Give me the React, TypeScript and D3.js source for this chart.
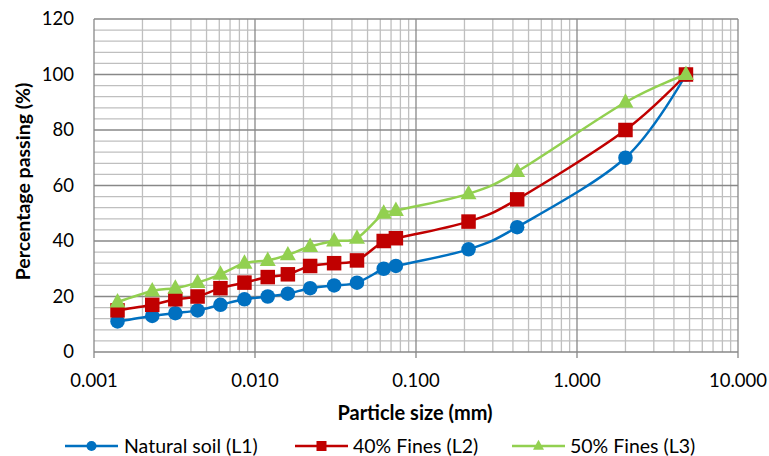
import React from "react";
import * as d3 from "d3";

const particleSizes = [0.0014, 0.0023, 0.0032, 0.0044, 0.0061, 0.0086, 0.012, 0.016, 0.022, 0.031, 0.043, 0.063, 0.075, 0.212, 0.425, 2.0, 4.75];
const naturalSoil = [11, 13, 14, 15, 17, 19, 20, 21, 23, 24, 25, 30, 31, 37, 45, 70, 100];
const fines40 = [15, 17, 19, 20, 23, 25, 27, 28, 31, 32, 33, 40, 41, 47, 55, 80, 100];
const fines50 = [18, 22, 23, 25, 28, 32, 33, 35, 38, 40, 41, 50, 51, 57, 65, 90, 100];
const seriesNames = ["Natural soil (L1)", "40% Fines (L2)", "50% Fines (L3)"];
const seriesColors = ["#0070C0", "#C00000", "#92D050"];
const xTickValues = [0.001, 0.01, 0.1, 1, 10];
const xTickLabels = ["0.001", "0.010", "0.100", "1.000", "10.000"];
const yTickValues = [0, 20, 40, 60, 80, 100, 120];

const FONT = "Lato, 'Open Sans', sans-serif";

function Marker({ kind, cx, cy, color, s }: { kind: number; cx: number; cy: number; color: string; s: number }) {
  if (kind === 0) return <circle cx={cx} cy={cy} r={s / 2} fill={color} />;
  if (kind === 1) return <rect x={cx - s / 2} y={cy - s / 2} width={s} height={s} fill={color} />;
  const h = s * 0.9;
  return (
    <path
      d={`M${cx},${cy - h * 0.62} L${cx + s / 2},${cy + h * 0.38} L${cx - s / 2},${cy + h * 0.38} Z`}
      fill={color}
    />
  );
}

export default function App() {
  const W = 769, H = 456;
  const L = 94, R = 738, T = 19, B = 352;
  const x = d3.scaleLog().domain([0.001, 10]).range([L, R]);
  const y = d3.scaleLinear().domain([0, 120]).range([B, T]);

  const minorX: number[] = [];
  for (const dec of [0.001, 0.01, 0.1, 1]) for (let k = 2; k <= 9; k++) minorX.push(dec * k);
  const minorY: number[] = [];
  for (let v = 4; v < 120; v += 4) if (v % 20 !== 0) minorY.push(v);

  const line = d3
    .line<[number, number]>()
    .x((d) => x(d[0]))
    .y((d) => y(d[1]))
    .curve(d3.curveCatmullRom.alpha(0));

  const allSeries = [naturalSoil, fines40, fines50];

  const legendItems = [
    { lx: 65, tx: 124 },
    { lx: 295, tx: 353 },
    { lx: 512, tx: 570 },
  ];

  return (
    <svg width={W} height={H} style={{ position: "absolute", left: 0, top: 0, background: "#fff" }} fontFamily={FONT}>
      <rect width={W} height={H} fill="#fff" />
      {minorY.map((v) => (
        <line key={"my" + v} x1={L} x2={R} y1={y(v)} y2={y(v)} stroke="#BFBFBF" strokeWidth={1.3} />
      ))}
      {minorX.map((v) => (
        <line key={"mx" + v} x1={x(v)} x2={x(v)} y1={T} y2={B} stroke="#BFBFBF" strokeWidth={1.3} />
      ))}
      {yTickValues.map((v) => (
        <line key={"My" + v} x1={L} x2={R} y1={y(v)} y2={y(v)} stroke="#888888" strokeWidth={1.3} />
      ))}
      {xTickValues.map((v) => (
        <line key={"Mx" + v} x1={x(v)} x2={x(v)} y1={T} y2={B + 6} stroke="#888888" strokeWidth={1.3} />
      ))}
      {yTickValues.map((v) => (
        <text key={"yt" + v} x={74} y={y(v)} dy="0.35em" textAnchor="end" fontSize={18.5} fill="#000">
          {v}
        </text>
      ))}
      {xTickValues.map((v, i) => (
        <text key={"xt" + v} x={x(v)} y={387} textAnchor="middle" fontSize={18.5} fill="#000">
          {xTickLabels[i]}
        </text>
      ))}
      <text x={415} y={420} textAnchor="middle" fontSize={20} fontWeight="bold" fill="#000">
        Particle size (mm)
      </text>
      <text
        transform={`translate(30,${(T + B) / 2 - 4}) rotate(-90)`}
        textAnchor="middle"
        fontSize={19.5}
        fontWeight="bold"
        fill="#000"
      >
        Percentage passing (%)
      </text>
      {allSeries.map((vals, si) => {
        const pts = particleSizes.map((d, i) => [d, vals[i]] as [number, number]);
        return (
          <g key={"s" + si}>
            <path d={line(pts) || ""} fill="none" stroke={seriesColors[si]} strokeWidth={2.5} />
            {pts.map((p, i) => (
              <Marker key={i} kind={si} cx={x(p[0])} cy={y(p[1])} color={seriesColors[si]} s={si === 2 ? 16 : 14.5} />
            ))}
          </g>
        );
      })}
      {legendItems.map((it, i) => (
        <g key={"lg" + i}>
          <line x1={it.lx} x2={it.lx + 53} y1={446} y2={446} stroke={seriesColors[i]} strokeWidth={2.5} />
          <Marker kind={i} cx={it.lx + 26.5} cy={446} color={seriesColors[i]} s={i === 2 ? 11 : 10} />
          <text x={it.tx} y={446} dy="0.35em" fontSize={19.5} fill="#000">
            {seriesNames[i]}
          </text>
        </g>
      ))}
    </svg>
  );
}
